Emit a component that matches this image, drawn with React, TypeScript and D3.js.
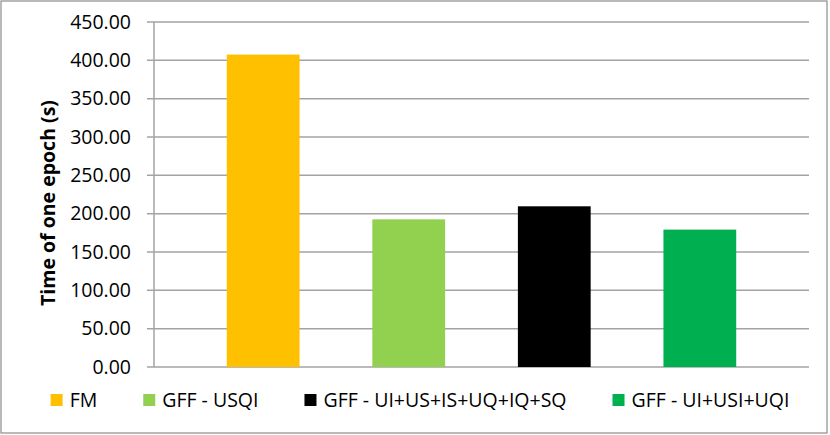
import React, { useEffect, useRef } from 'react';
import * as d3 from 'd3';

// series (one category, four series)
const seriesNames = ['FM', 'GFF - USQI', 'GFF - UI+US+IS+UQ+IQ+SQ', 'GFF - UI+USI+UQI'];
const seriesValues = [407.5, 192.6, 209.6, 179.2];
const seriesColors = ['#FFC000', '#92D050', '#000000', '#00B050'];
const yTicks = [0, 50, 100, 150, 200, 250, 300, 350, 400, 450];
const yTitle = 'Time of one epoch (s)';

const W = 830;
const H = 435;
const margin = { top: 22, right: 21, bottom: 68, left: 154 };
const font = '"Open Sans", "DejaVu Sans", sans-serif';

export default function App() {
  const ref = useRef<SVGSVGElement | null>(null);

  useEffect(() => {
    const svg = d3.select(ref.current);
    svg.selectAll('*').remove();

    const innerW = W - margin.left - margin.right;
    const innerH = H - margin.top - margin.bottom;

    const x = d3.scaleBand<string>()
      .domain(seriesNames)
      .range([0, innerW])
      .paddingInner(0.5)
      .paddingOuter(0.5);

    const y = d3.scaleLinear().domain([0, 450]).range([innerH, 0]);

    // chart border
    svg.append('rect')
      .attr('x', 1).attr('y', 1)
      .attr('width', W - 4).attr('height', H - 3)
      .attr('fill', '#fff')
      .attr('stroke', '#8c8c8c')
      .attr('stroke-width', 1.2);

    const g = svg.append('g').attr('transform', `translate(${margin.left},${margin.top})`);

    // gridlines + ticks
    g.selectAll('.grid')
      .data(yTicks)
      .enter()
      .append('line')
      .attr('x1', -7)
      .attr('x2', innerW)
      .attr('y1', d => y(d))
      .attr('y2', d => y(d))
      .attr('stroke', '#a3a3a3')
      .attr('stroke-width', 1.5);

    g.selectAll('.tlabel')
      .data(yTicks)
      .enter()
      .append('text')
      .attr('x', -23)
      .attr('y', d => y(d))
      .attr('dy', '0.35em')
      .attr('text-anchor', 'end')
      .attr('font-family', font)
      .attr('font-size', 19.5)
      .attr('fill', '#000')
      .text(d => d.toFixed(2));

    // y axis line
    g.append('line')
      .attr('x1', 0).attr('x2', 0)
      .attr('y1', y(450)).attr('y2', y(0))
      .attr('stroke', '#a3a3a3')
      .attr('stroke-width', 1.5);

    // bars
    g.selectAll('.bar')
      .data(seriesValues)
      .enter()
      .append('rect')
      .attr('x', (_, i) => x(seriesNames[i]) as number)
      .attr('y', d => y(d))
      .attr('width', x.bandwidth())
      .attr('height', d => y(0) - y(d))
      .attr('fill', (_, i) => seriesColors[i]);

    // y title
    svg.append('text')
      .attr('transform', `translate(55,203) rotate(-90)`)
      .attr('text-anchor', 'middle')
      .attr('font-family', font)
      .attr('font-weight', 'bold')
      .attr('font-size', 19.5)
      .attr('fill', '#000')
      .text(yTitle);

    // legend, laid out from measured text widths
    const legend = svg.append('g');
    const sw = 12;
    const gapText = 7;
    const gapItem = 46;
    const items = seriesNames.map((name, i) => {
      const item = legend.append('g');
      item.append('rect')
        .attr('width', sw).attr('height', sw)
        .attr('y', -sw / 2)
        .attr('fill', seriesColors[i]);
      const t = item.append('text')
        .attr('x', sw + gapText)
        .attr('y', 0)
        .attr('dy', '0.36em')
        .attr('font-family', font)
        .attr('font-size', 19.5)
        .attr('fill', '#000')
        .text(name);
      const w = (t.node() as SVGTextElement).getComputedTextLength();
      return { item, w: sw + gapText + w };
    });
    const total = d3.sum(items, d => d.w) + gapItem * (items.length - 1);
    let cx = 420 - total / 2;
    items.forEach(d => {
      d.item.attr('transform', `translate(${cx},400)`);
      cx += d.w + gapItem;
    });
  }, []);

  return (
    <div style={{ position: 'fixed', left: 0, top: 0 }}>
      <svg ref={ref} width={W} height={H} style={{ display: 'block' }} />
    </div>
  );
}
